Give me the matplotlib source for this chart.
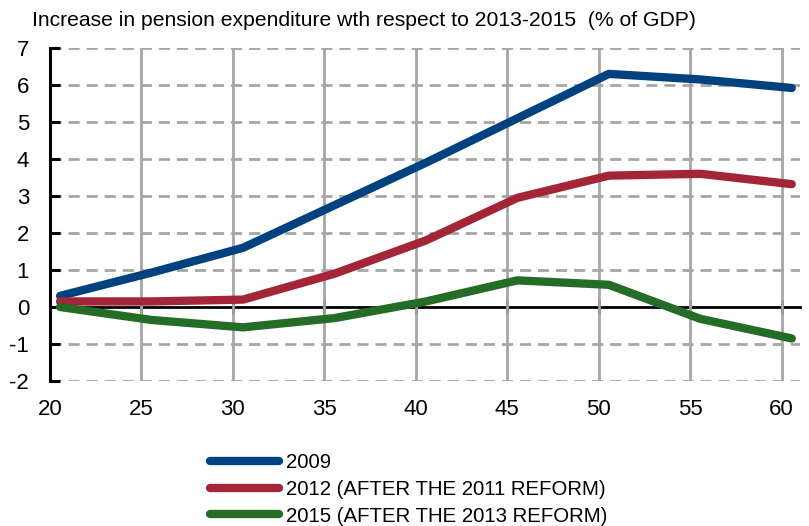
import numpy as np
import matplotlib
matplotlib.use("Agg")
import matplotlib.pyplot as plt

plt.rcParams['font.family'] = ['Liberation Sans', 'DejaVu Sans']
plt.rcParams['axes.unicode_minus'] = False

ages = np.array([20, 25, 30, 35, 40, 45, 50, 55, 60])
y2009 = [0.3, 0.93, 1.6, 2.75, 3.9, 5.1, 6.3, 6.15, 5.92]
y2012 = [0.15, 0.15, 0.2, 0.9, 1.8, 2.95, 3.55, 3.6, 3.32]
y2015 = [0.0, -0.35, -0.55, -0.3, 0.15, 0.72, 0.6, -0.32, -0.85]
labels = ["2009", "2012 (AFTER THE 2011 REFORM)", "2015 (AFTER THE 2013 REFORM)"]
colors = ["#00427f", "#a32638", "#256d27"]
title = "Increase in pension expenditure wth respect to 2013-2015  (% of GDP)"

x_shift = 0.55  # points sit a little right of the grid lines in the original

fig = plt.figure(figsize=(8.09, 5.26), dpi=100)
ax = fig.add_axes([50 / 809, 1 - 381 / 526, 750 / 809, 333 / 526])

ymin, ymax = -2, 7
ax.set_xlim(20, 61)
ax.set_ylim(ymin, ymax)

# grid
for x in ages[1:]:
    ax.axvline(x, color="#a6a6a6", lw=2, zorder=1)
for y in range(ymin, ymax + 1):
    if y != 0:
        ax.axhline(y, color="#a6a6a6", lw=2, ls=(0, (4, 2.5)), zorder=1)

for vals, lab, c in zip([y2009, y2012, y2015], labels, colors):
    ax.plot(ages + x_shift, vals, color=c, lw=6, label=lab,
            solid_capstyle="round", solid_joinstyle="round", zorder=3)

for s in ["top", "right", "bottom"]:
    ax.spines[s].set_visible(False)
ax.spines["left"].set_linewidth(2.2)
ax.spines["left"].set_zorder(4)

ax.set_yticks(range(ymin, ymax + 1))
ax.tick_params(axis="y", direction="in", length=7, width=2.2, labelsize=16, pad=15)
ax.set_xticks(ages)
ax.tick_params(axis="x", length=0, labelsize=16, pad=13)

# zero axis with cross ticks
zero = ax.secondary_xaxis((0 - ymin) / (ymax - ymin))
zero.spines["bottom"].set_linewidth(2)
zero.set_xticks(ages[1:])
zero.set_xticklabels([])
zero.tick_params(direction="inout", length=10, width=2)

fig.text(32 / 809, 1 - 21 / 526, title, fontsize=15.2, va="center", ha="left")

fig.legend(loc="upper left", bbox_to_anchor=(210 / 809, 1 - 453 / 526),
           frameon=False, fontsize=14.7, handlelength=3.4, handletextpad=0.3,
           labelspacing=0.38, borderpad=0, borderaxespad=0)

fig.savefig("out.png", dpi=100)
